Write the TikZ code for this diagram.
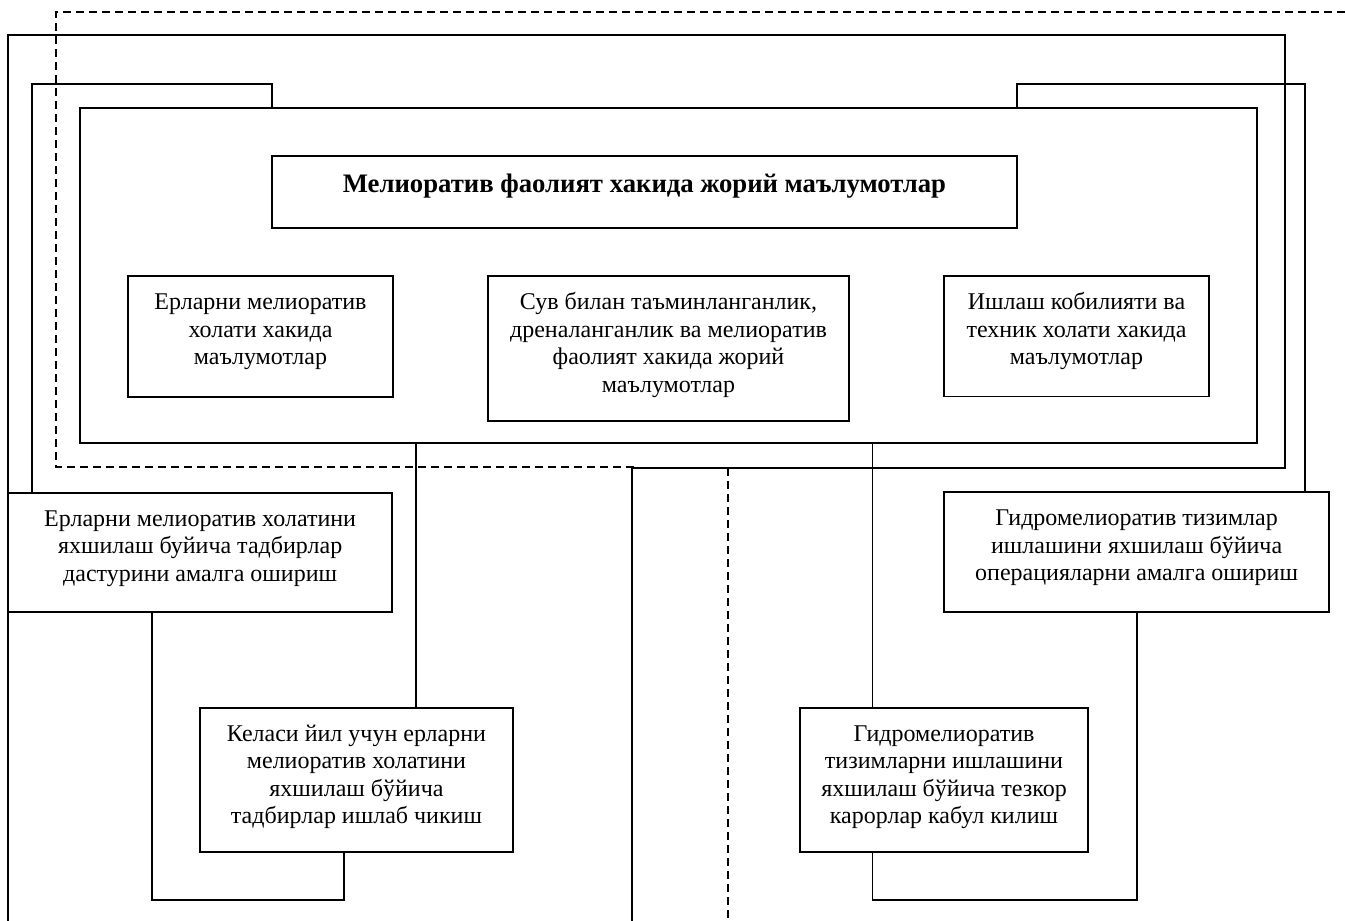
\documentclass[tikz,border=0pt]{standalone}
\usepackage{fontspec}
\setmainfont{Liberation Serif}
\begin{document}
\begin{tikzpicture}[x=1pt,y=-1pt,
  ln/.style={line width=1.8pt},
  dsh/.style={line width=1.6pt, dash pattern=on 8pt off 5pt},
  box/.style={draw, line width=1.8pt, inner sep=0pt, outer sep=0pt, anchor=north west},
  txt/.style={anchor=north, inner sep=0pt, align=center, font=\fontsize{24}{27.5}\selectfont},
  ttl/.style={anchor=north, inner sep=0pt, align=center, font=\fontsize{26.7}{31}\selectfont\bfseries}]
\useasboundingbox (0,0) rectangle (1345,921);

% boxes
\node[box, minimum width=1177pt, minimum height=335.3pt] (inner) at (80,108) {};
\node[box, minimum width=745pt, minimum height=72.3pt] (title) at (272,156) {};
\node[box, minimum width=265pt, minimum height=121pt] (s1) at (128,276) {};
\node[box, minimum width=361pt, minimum height=144.7pt] (s2) at (488,276) {};
\node[box, minimum width=265pt, minimum height=120.5pt] (s3) at (944,276) {};
\node[box, minimum width=384.3pt, minimum height=119pt] (LL) at (8,492.7) {};
\node[box, minimum width=384.7pt, minimum height=119.4pt] (LR) at (944.3,492.3) {};
\node[box, minimum width=313pt, minimum height=144pt] (K) at (200,708) {};
\node[box, minimum width=288pt, minimum height=144pt] (G) at (800,708) {};

% texts
\node[ttl] (tt) at ([yshift=-15pt]title.north) {\strut Мелиоратив фаолият хакида жорий маълумотлар};
\node[txt] (t1) at ([yshift=-14.5pt]s1.north) {\strut Ерларни мелиоратив\\холати хакида\\маълумотлар};
\node[txt] (t2) at ([yshift=-14.5pt]s2.north) {\strut Сув билан таъминланганлик,\\дреналанганлик ва мелиоратив\\фаолият хакида жорий\\маълумотлар};
\node[txt] (t3) at ([yshift=-14.5pt]s3.north) {\strut Ишлаш кобилияти ва\\техник холати хакида\\маълумотлар};
\node[txt] (t4) at ([yshift=-14pt]LL.north) {\strut Ерларни мелиоратив холатини\\яхшилаш буйича тадбирлар\\дастурини амалга ошириш};
\node[txt] (t5) at ([yshift=-14pt]LR.north) {\strut Гидромелиоратив тизимлар\\ишлашини яхшилаш бўйича\\операцияларни амалга ошириш};
\node[txt] (t6) at ([yshift=-14pt]K.north) {\strut Келаси йил учун ерларни\\мелиоратив холатини\\яхшилаш бўйича\\тадбирлар ишлаб чикиш};
\node[txt] (t7) at ([yshift=-14pt]G.north) {\strut Гидромелиоратив\\тизимларни ишлашини\\яхшилаш бўйича тезкор\\карорлар кабул килиш};

% dashed route
\coordinate (d0) at (1345,12);
\coordinate (d1) at (56,12);
\coordinate (d2) at (56,467);
\coordinate (d3) at (637,467);
\coordinate (e1) at (728,468);
\coordinate (e2) at (728,921);
\draw[dsh] (d0) -- (d1) -- (d2) -- (d3);
\draw[dsh] (e1) -- (e2);

% outer solid route
\coordinate (o1) at (8,921);
\coordinate (otl) at (8,35);
\coordinate (otr) at (1285,35);
\coordinate (obr) at (1285,468);
\coordinate (obm) at (632,468);
\coordinate (o2) at (632,921);
\draw[ln] (o1) -- (otl) -- (otr) -- (obr) -- (obm) -- (o2);

% second routes
\coordinate (a1) at (32,84);
\coordinate (a2) at (272,84);
\draw[ln] (LL.north -| a1) -- (a1) -- (a2) -- (inner.north -| a2);
\coordinate (b1) at (1017,84);
\coordinate (b2) at (1305,84);
\draw[ln] (inner.north -| b1) -- (b1) -- (b2) -- (LR.north -| b2);

% connectors
\coordinate (xa) at (416,0);
\coordinate (xb) at (872.5,0);
\coordinate (xc) at (152.3,900);
\coordinate (xd) at (344,900);
\coordinate (xe) at (1136.7,900);
\coordinate (xf) at (872.5,900);
\draw[ln] (inner.south -| xa) -- (K.north -| xa);
\draw[ln] (inner.south -| xb) -- (G.north -| xb);
\draw[ln] (LL.south -| xc) -- (xc) -- (xd) -- (K.south -| xd);
\draw[ln] (LR.south -| xe) -- (xe) -- (xf) -- (G.south -| xf);
\end{tikzpicture}
\end{document}
